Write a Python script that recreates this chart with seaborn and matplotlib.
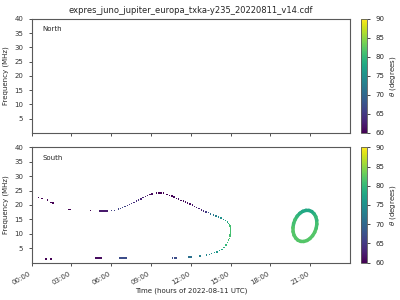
import numpy as np
import pandas as pd
import matplotlib
matplotlib.use("Agg")
import matplotlib.pyplot as plt
import seaborn as sns
from matplotlib.colors import Normalize

title = "expres_juno_jupiter_europa_txka-y235_20220811_v14.cdf"
xtick_hours = [0, 3, 6, 9, 12, 15, 18, 21]
xtick_labels = ["00:00", "03:00", "06:00", "09:00", "12:00", "15:00", "18:00", "21:00"]
ytick_vals = [5, 10, 15, 20, 25, 30, 35, 40]
cbar_ticks = [60, 65, 70, 75, 80, 85, 90]

# South arc: time (h), frequency (MHz), theta (deg)
arc_time = [0.50, 0.80, 1.18, 1.46, 1.63, 2.78, 2.88, 4.45,
            5.15, 5.30, 5.45, 5.60, 5.70, 6.04, 6.23, 6.54,
            6.70, 6.87, 7.04, 7.21, 7.38, 7.55, 7.72, 7.89, 8.06, 8.23,
            8.40, 8.57, 8.74, 8.91, 9.06, 9.43, 9.55, 9.68, 9.80, 9.93,
            10.20, 10.40, 10.57, 10.75, 10.92, 11.09, 11.26, 11.43, 11.60,
            11.77, 11.94, 12.11, 12.28, 12.45, 12.62, 12.79, 12.96, 13.13,
            13.33, 13.50, 13.70, 13.90, 14.08, 14.26, 14.46, 14.62, 14.75,
            14.84, 14.92, 14.97, 14.99, 15.00, 15.00, 15.00, 14.99, 14.97,
            14.94, 14.90, 14.83, 14.75, 14.66, 14.50, 14.34, 14.15, 13.96,
            13.78, 13.58, 13.40, 13.20, 12.70, 11.87, 11.97, 12.07,
            10.64, 10.77, 10.90, 6.66, 6.80, 6.95, 7.12,
            4.85, 4.99, 5.14, 5.28, 1.08, 1.46]
arc_freq = [22.6, 22.3, 21.7, 20.9, 20.6, 18.45, 18.45, 18.1,
            17.9, 17.9, 17.9, 17.9, 17.9, 18.0, 18.1, 18.5,
            18.8, 19.1, 19.4, 19.8, 20.1, 20.5, 20.9, 21.3, 21.7, 22.1,
            22.5, 22.9, 23.3, 23.6, 23.8, 24.1, 24.1, 24.1, 24.1, 24.1,
            23.7, 23.3, 23.1, 22.7, 22.3, 22.0, 21.6, 21.3, 21.0,
            20.6, 20.3, 19.9, 19.5, 19.1, 18.7, 18.3, 17.9, 17.6,
            17.3, 16.9, 16.5, 16.2, 15.8, 15.4, 15.0, 14.5, 14.0,
            13.6, 13.2, 12.7, 12.2, 11.7, 11.2, 10.7, 10.2, 9.6,
            9.0, 8.4, 7.8, 7.0, 6.0, 5.2, 4.55, 4.1, 3.7,
            3.4, 3.15, 2.8, 2.6, 2.2, 1.9, 1.9, 1.9,
            1.5, 1.5, 1.5, 1.5, 1.5, 1.5, 1.5,
            1.5, 1.5, 1.5, 1.5, 1.2, 1.2]
arc_theta = [60, 60, 60, 60, 60, 60, 60, 60,
             62, 62, 62, 62, 62, 66, 66, 66,
             66, 66, 66, 65, 65, 65, 64, 64, 64, 63,
             63, 62, 62, 61, 61, 60, 60, 60, 60, 60,
             60, 60, 60, 61, 61, 61, 61, 61, 61,
             61, 61, 62, 62, 62, 63, 63, 64, 65,
             68, 71, 72, 73, 74, 75, 76, 77, 78,
             79, 80, 81, 81, 81, 81, 81, 81, 81,
             81, 81, 81, 80, 80, 79, 78, 77, 76,
             76, 75, 74, 74, 73, 71, 71, 71,
             67, 67, 67, 67, 67, 67, 67,
             61, 61, 61, 61, 60, 60]

# South closed loop near 20-21 h
loop_time = [21.50, 21.49, 21.42, 21.29, 21.12, 20.91, 20.68, 20.44, 20.22, 20.02,
             19.86, 19.75, 19.70, 19.71, 19.78, 19.91, 20.08, 20.29, 20.52, 20.76,
             20.98, 21.18, 21.34, 21.45, 21.50]
loop_freq = [13.30, 14.68, 15.92, 16.94, 17.68, 18.08, 18.10, 17.76, 17.08, 16.10,
             14.88, 13.52, 12.10, 10.72, 9.48, 8.46, 7.72, 7.32, 7.30, 7.64,
             8.32, 9.30, 10.52, 11.88, 13.30]
loop_theta = [81, 80, 80, 79, 78, 78, 78, 78, 79, 80,
              81, 81, 82, 82, 82, 82, 82, 82, 82, 82,
              82, 82, 82, 81, 81]

sns.set_style("ticks")
plt.rcParams["font.family"] = ["DejaVu Sans"]

fig = plt.figure(figsize=(4, 3), dpi=100)
ax_n = fig.add_axes([0.079, 0.557, 0.796, 0.380])
ax_s = fig.add_axes([0.079, 0.125, 0.796, 0.384])
cax_n = fig.add_axes([0.9025, 0.557, 0.016, 0.380])
cax_s = fig.add_axes([0.9025, 0.125, 0.016, 0.384])

norm = Normalize(60, 90)
cmap = plt.get_cmap("viridis")

df = pd.DataFrame({"time": arc_time, "freq": arc_freq, "theta": arc_theta})
sns.scatterplot(data=df, x="time", y="freq", hue="theta", palette="viridis",
                hue_norm=(60, 90), marker="s", s=1.1, linewidth=0,
                legend=False, ax=ax_s)

for i in range(len(loop_time) - 1):
    ax_s.plot(loop_time[i:i + 2], loop_freq[i:i + 2],
              color=cmap(norm(loop_theta[i])), lw=2.5, solid_capstyle="round")

for ax, name in [(ax_n, "North"), (ax_s, "South")]:
    ax.set_xlim(0, 24)
    ax.set_ylim(0, 40)
    ax.set_yticks(ytick_vals)
    ax.set_xticks(xtick_hours)
    ax.set_ylabel("Frequency (MHz)", fontsize=5)
    ax.set_xlabel("")
    ax.tick_params(labelsize=5, length=2.5, width=0.6, colors="0.2")
    for sp in ax.spines.values():
        sp.set_color("0.35")
        sp.set_linewidth(0.8)
        sp.set_visible(True)
    ax.text(0.035, 0.91, name, transform=ax.transAxes, fontsize=5, va="center")

ax_n.set_xticklabels([])
ax_s.set_xticklabels(xtick_labels, rotation=30, ha="right")
ax_s.set_xlabel("Time (hours of 2022-08-11 UTC)", fontsize=5, labelpad=1)
ax_n.set_title(title, fontsize=6, pad=4)

for cax in (cax_n, cax_s):
    sm = plt.cm.ScalarMappable(norm=norm, cmap=cmap)
    cb = fig.colorbar(sm, cax=cax, ticks=cbar_ticks)
    cb.set_label(r"$\theta$ (degrees)", fontsize=5, labelpad=3)
    cb.ax.tick_params(labelsize=5, length=2, width=0.6)
    cb.outline.set_edgecolor("0.35")
    cb.outline.set_linewidth(0.6)

fig.savefig("out.png", dpi=100)
